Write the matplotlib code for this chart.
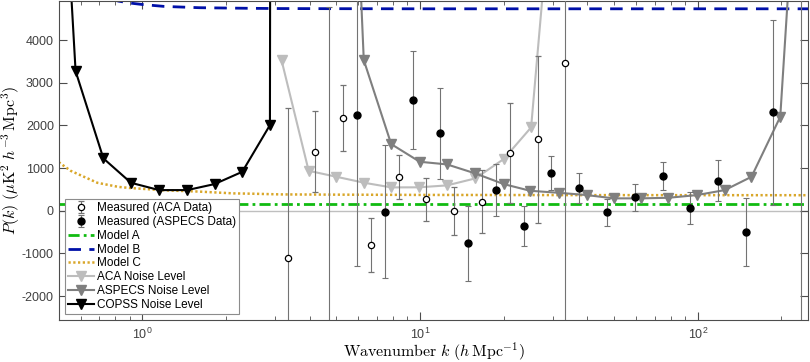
import numpy as np
import matplotlib.pyplot as plt
from matplotlib.ticker import FuncFormatter, LogLocator

plt.rcParams["font.family"] = ["Liberation Sans", "DejaVu Sans"]
plt.rcParams["mathtext.fontset"] = "cm"
plt.rcParams["axes.unicode_minus"] = False

# measured power spectra (ACA and ASPECS)
k_aca = [3.34, 4.2, 5.28, 6.66, 8.38, 10.5, 13.3, 16.7, 21.0, 26.5, 33.3]
p_aca = [-1116, 1383, 2165, -804, 797, 267, 0, 211, 1360, 1673, 3469]
e_aca = [3530, 946, 775, 640, 515, 510, 565, 740, 1170, 1950, 6500]

k_aspecs = [4.71, 5.93, 7.5, 9.44, 11.8, 14.9, 18.8, 23.6, 29.7, 37.4, 47.1,
            59.5, 74.6, 93.8, 118, 149, 187, 235]
p_aspecs = [-3000, 2243, -20, 2594, 1814, -765, 485, -351, 876, 539, -38,
            314, 820, 70, 703, -506, 2306, 6000]
e_aspecs = [7780, 3540, 1567, 1150, 1075, 880, 615, 470, 400, 345, 320,
            313, 325, 370, 480, 795, 2175, 10000]

# models
k_model = [0.5, 0.552, 0.689, 0.82, 0.9, 1.0, 1.2, 1.6, 2.13, 2.5, 3.15, 5.0, 10, 30, 100, 250]
model_a = [150] * len(k_model)
model_b = [5600, 5350, 5050, 4915, 4870, 4835, 4790, 4760, 4750, 4745, 4740, 4737,
           4734, 4734, 4734, 4734]
model_c = [1140, 937, 656, 560, 535, 515, 480, 450, 408, 400, 384, 378, 372, 368, 366, 365]

# noise levels
k_aca_noise = [3.17, 3.97, 5.0, 6.3, 7.88, 9.89, 12.5, 15.8, 20.0, 25.1, 31.6]
p_aca_noise = [3532, 937, 797, 656, 548, 550, 595, 759, 1212, 1954, 9440]

k_aspecs_noise = [5.0, 6.27, 7.87, 9.97, 12.5, 15.8, 20.0, 24.9, 31.5, 39.9, 49.7,
                  62.4, 78.4, 99.2, 125, 156, 198, 250]
p_aspecs_noise = [18300, 3532, 1563, 1149, 1087, 876, 626, 469, 422, 368, 291,
                  291, 305, 368, 485, 797, 2203, 12600]

k_copss = [0.457, 0.575, 0.724, 0.91, 1.15, 1.45, 1.82, 2.29, 2.88, 3.63]
p_copss = [14700, 3274, 1228, 656, 485, 485, 626, 914, 2008, 500000]

fig = plt.figure(figsize=(8.1, 3.62), dpi=100)
ax = fig.add_axes([0.0725, 0.116, 0.9255, 0.881])

ax.axhline(0, color="0.75", lw=1, zorder=1)

h_aca = ax.errorbar(k_aca, p_aca, yerr=e_aca, fmt="o", ms=4.5, mfc="white", mec="black",
                    mew=0.9, ecolor="0.45", elinewidth=0.8, capsize=2.5, capthick=0.8,
                    label="Measured (ACA Data)", zorder=3)
h_asp = ax.errorbar(k_aspecs, p_aspecs, yerr=e_aspecs, fmt="o", ms=5, mfc="black", mec="black",
                    ecolor="0.45", elinewidth=0.8, capsize=2.5, capthick=0.8,
                    label="Measured (ASPECS Data)", zorder=3)

l_a, = ax.plot(k_model, model_a, color="#11bb11", lw=2, dashes=(4, 1.5, 1, 1.5), label="Model A")
l_b, = ax.plot(k_model, model_b, color="#0010a8", lw=2, dashes=(4.5, 3), label="Model B")
l_c, = ax.plot(k_model, model_c, color="#d9a72a", lw=1.8, dashes=(0.9, 1.0), label="Model C")

n_aca, = ax.plot(k_aca_noise, p_aca_noise, color="#bdbdbd", lw=1.5, marker="v", ms=7,
                 label="ACA Noise Level")
n_asp, = ax.plot(k_aspecs_noise, p_aspecs_noise, color="#7f7f7f", lw=1.5, marker="v", ms=7,
                 label="ASPECS Noise Level")
n_cop, = ax.plot(k_copss, p_copss, color="black", lw=1.5, marker="v", ms=7,
                 label="COPSS Noise Level")

ax.set_xscale("log")
ax.set_xlim(0.5, 250)
ax.set_ylim(-2560, 4915)
ax.set_yticks([-2000, -1000, 0, 1000, 2000, 3000, 4000])
ax.xaxis.set_major_locator(LogLocator(base=10))
ax.xaxis.set_major_formatter(FuncFormatter(lambda v, p: r"$\mathregular{10^{%d}}$" % round(np.log10(v))))

for s in ax.spines.values():
    s.set_color("0.3")
    s.set_linewidth(0.8)
ax.tick_params(which="both", direction="in", top=True, right=True, colors="0.3",
               labelsize=9, labelcolor="0.25")
ax.tick_params(which="major", length=6)
ax.tick_params(which="minor", length=3)
ax.tick_params(axis="x", pad=5)

ax.set_xlabel(r"$\mathrm{Wavenumber}\ k\ (h\,\mathrm{Mpc}^{-1})$", fontsize=11.5, labelpad=-1)
ax.set_ylabel(r"$P(k)\ (\mu\mathrm{K}^2\ h^{-3}\,\mathrm{Mpc}^3)$", fontsize=11.5, labelpad=0)

handles = [h_aca, h_asp, l_a, l_b, l_c, n_aca, n_asp, n_cop]
leg = ax.legend(handles=handles, labels=[h.get_label() for h in handles],
                loc="lower left", bbox_to_anchor=(0.008, 0.018), fontsize=8.5,
                frameon=True, fancybox=False, framealpha=1, edgecolor="0.55",
                borderpad=0.3, labelspacing=0.15, handlelength=2.2, handletextpad=0.2,
                borderaxespad=0)
leg.get_frame().set_linewidth(0.8)

fig.savefig("out.png", dpi=100)
